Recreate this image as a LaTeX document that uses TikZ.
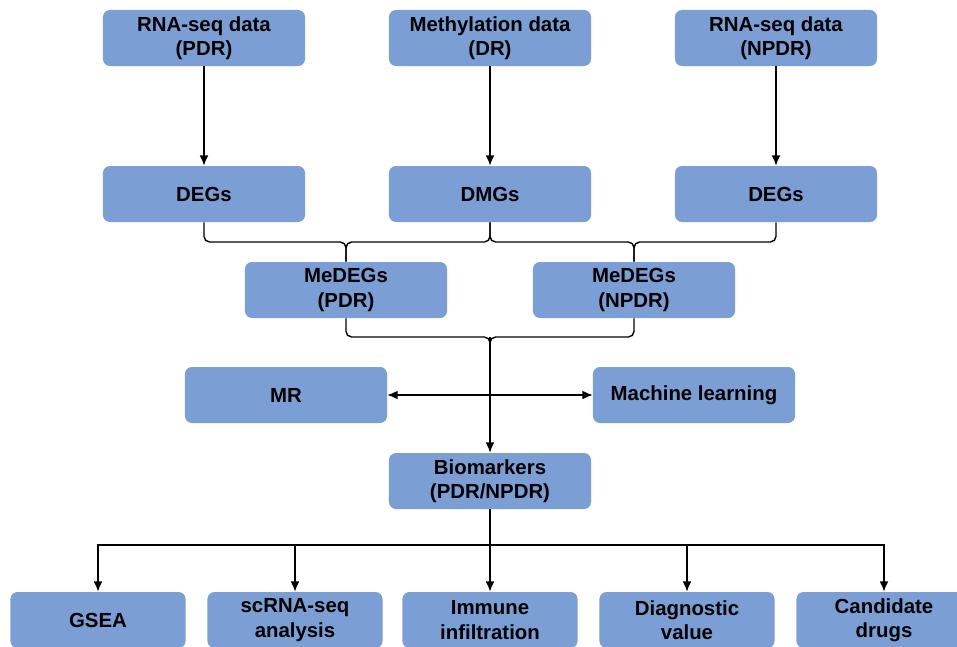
\documentclass[tikz,border=0pt]{standalone}
\usepackage{fontspec}
\setmainfont{Liberation Sans}
\usetikzlibrary{arrows.meta}
\definecolor{boxblue}{RGB}{123,158,213}
\tikzset{
  box/.style={fill=boxblue, rounded corners=5pt, minimum width=5.05cm, minimum height=1.4cm,
    align=center, font=\fontsize{14.5}{17.2}\selectfont\bfseries, inner sep=1pt},
  smallbox/.style={box, minimum width=4.375cm},
  link/.style={line width=1pt, -{Latex[length=2.6mm,width=2.2mm]}},
  brace/.style={line width=1pt, rounded corners=4pt}
}
\begin{document}
\begin{tikzpicture}[x=0.025cm, y=-0.025cm]
\useasboundingbox (0,0) rectangle (957,646);

\node [box] (rna1) at (204,38) {RNA-seq data\\(PDR)};
\node [box] (meth) at (490,38) {Methylation data\\(DR)};
\node [box] (rna2) at (776,38) {RNA-seq data\\(NPDR)};

\node [box] (deg1) at (204,194) {DEGs};
\node [box] (dmg) at (490,194) {DMGs};
\node [box] (deg2) at (776,194) {DEGs};

\node [box] (me1) at (346,290) {MeDEGs\\(PDR)};
\node [box] (me2) at (634,290) {MeDEGs\\(NPDR)};

\node [box] (mr) at (286,395) {MR};
\node [box] (ml) at (694,395) {Machine learning};

\node [box] (bio) at (490,481) {Biomarkers\\(PDR/NPDR)};

\node [smallbox] (gsea) at (98,620) {GSEA};
\node [smallbox] (scrna) at (295,620) {scRNA-seq\\analysis};
\node [smallbox] (immune) at (490,620) {Immune\\infiltration};
\node [smallbox] (diag) at (687,620) {Diagnostic\\value};
\node [smallbox] (drugs) at (884,620) {Candidate\\drugs};

\draw [link] (rna1) -- (deg1);
\draw [link] (meth) -- (dmg);
\draw [link] (rna2) -- (deg2);

% braces
\coordinate (b1) at (346,242);
\coordinate (b2) at (634,242);
\coordinate (b3) at (490,337);
\draw [brace] (deg1.south) |- (b1) -- (me1.north);
\draw [brace] (dmg.south) |- (b1) -- (me1.north);
\draw [brace] (dmg.south) |- (b2) -- (me2.north);
\draw [brace] (deg2.south) |- (b2) -- (me2.north);
\draw [brace] (me1.south) |- (b3) -- ++(0,14);
\draw [brace] (me2.south) |- (b3) -- ++(0,14);

\draw [link] (b3) -- (bio.north);
\draw [line width=1pt, {Latex[length=2.6mm,width=2.2mm]}-{Latex[length=2.6mm,width=2.2mm]}] (mr.east) -- (ml.west);

\coordinate (hb) at (490,545);
\draw [line width=1pt] (bio.south) -- (hb);
\foreach \n in {gsea,scrna,immune,diag,drugs}
  \draw [link] (hb) -| (\n.north);
\end{tikzpicture}
\end{document}
